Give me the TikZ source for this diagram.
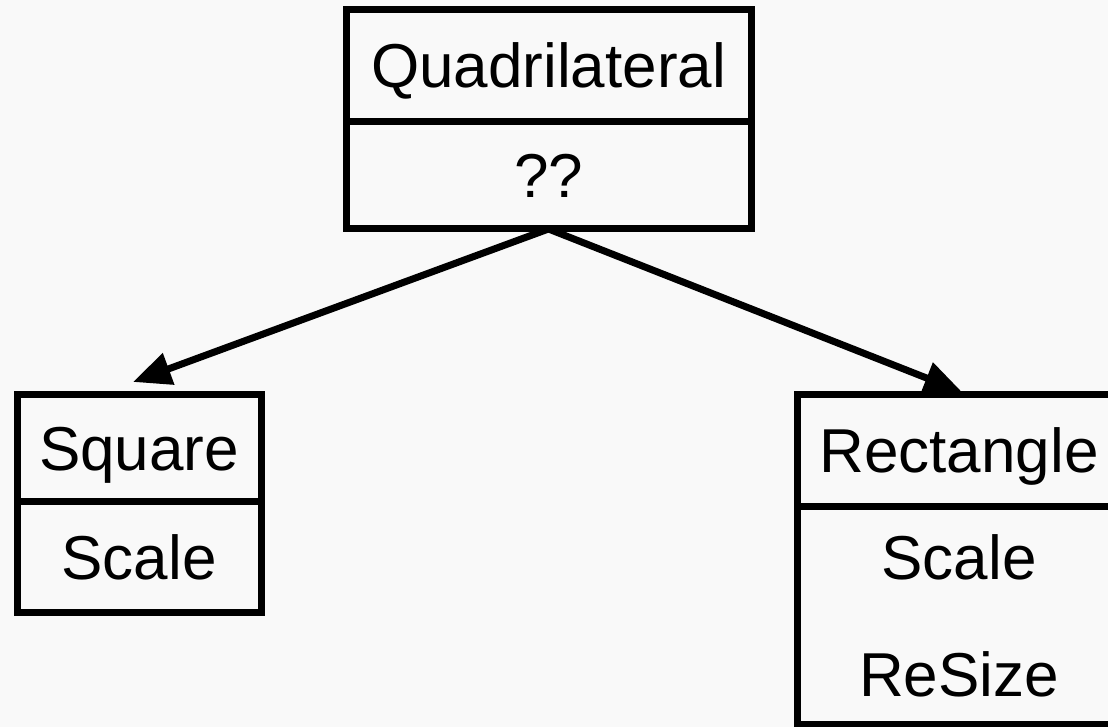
\documentclass[tikz,border=0pt]{standalone}
\usepackage{fontspec}
\setmainfont{Liberation Sans}
\usepackage{xcolor}
\definecolor{bggray}{RGB}{249,249,249}
\usepackage{tikz}
\usetikzlibrary{positioning}
\usetikzlibrary{arrows.meta}
\newcommand{\umlfont}{\fontsize{62}{117}\selectfont}
\tikzset{
    classbox/.style={draw, rectangle, line width=7pt, outer sep=0pt, inner sep=0pt, font=\umlfont},
    oneline/.style={classbox, text height=44pt, text depth=0pt},
    inherit/.style={-{Triangle[length=38pt,width=32pt]}, line width=7pt}
}
\begin{document}
\begin{tikzpicture}
    \fill[bggray] (0,0) rectangle (1108pt,727pt);
    \useasboundingbox (0,0) rectangle (1108pt,727pt);

    \node[oneline, minimum width=405pt, minimum height=112pt] (quadTitle) at (548.5pt,661pt) {Quadrilateral};
    \node[oneline, minimum width=405pt, minimum height=107pt, below=0pt of quadTitle] (quadBody) {??};

    \node[oneline, minimum width=244pt, minimum height=107pt] (sqTitle) at (139pt,278.5pt) {Square};
    \node[oneline, minimum width=244pt, minimum height=111pt, below=0pt of sqTitle] (sqBody) {Scale};

    \node[oneline, minimum width=324pt, minimum height=112pt] (rectTitle) at (959pt,276pt) {Rectangle};
    \node[classbox, align=center, minimum width=324pt, minimum height=218pt, below=0pt of rectTitle] (rectBody) {Scale\\ReSize};

    \draw[inherit] (quadBody.south) -- ([xshift=-6pt,yshift=13pt]sqTitle.north);
    \draw[inherit] (quadBody.south) -- ([xshift=3pt,yshift=3pt]rectTitle.north);
\end{tikzpicture}
\end{document}
